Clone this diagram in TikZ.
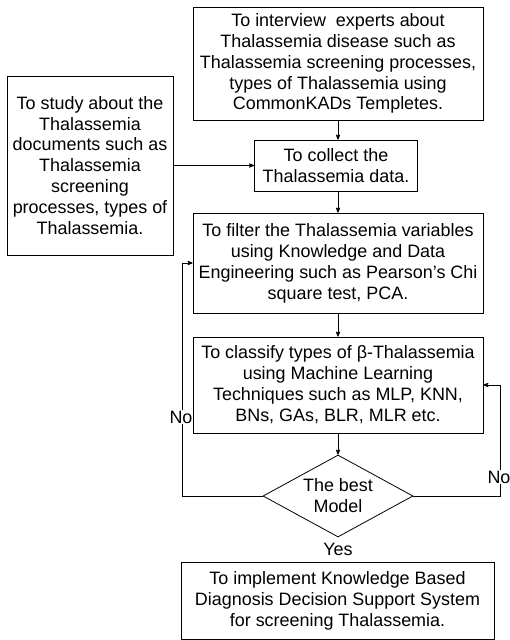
\documentclass[tikz,border=0pt]{standalone}
\usepackage{fontspec}
\setmainfont{Liberation Sans}
\usetikzlibrary{arrows}
\usetikzlibrary{shapes.geometric}

\begin{document}
\begin{tikzpicture} [x=1bp, y=-1bp, >=stealth', font=\fontsize{18}{21}\selectfont,
 box/.style={draw, align=center, inner sep=0, line width=.8bp},
 link/.style={draw, line width=.8bp, ->},
 lbl/.style={fill=white, inner sep=1}]
\useasboundingbox (0,0) rectangle (510,640);
\node[box, minimum width=290bp, minimum height=113bp] (interview) at (338,63.5)
 {To interview\ \ experts about\\ Thalassemia disease such as\\ Thalassemia screening processes,\\ types of Thalassemia using\\ CommonKADs Templetes.};
\node[box, minimum width=166bp, minimum height=179bp] (study) at (90,165.5)
 {To study about the\\ Thalassemia\\ documents such as\\ Thalassemia\\ screening\\ processes, types of\\ Thalassemia.};
\node[box, minimum width=163bp, minimum height=51bp] (collect) at (336,165.5)
 {To collect the\\ Thalassemia data.};
\node[box, minimum width=290bp, minimum height=100bp] (filter) at (338,263)
 {To filter the Thalassemia variables\\ using Knowledge and Data\\ Engineering such as Pearson’s Chi\\ square test, PCA.};
\node[box, minimum width=290bp, minimum height=96bp] (classify) at (338,385)
 {To classify types of β-Thalassemia\\ using Machine Learning\\ Techniques such as MLP, KNN,\\ BNs, GAs, BLR, MLR etc.};
\node[box, diamond, aspect=1.83, minimum width=150bp, minimum height=82bp] (best) at (338,496)
 {The best\\ Model};
\node[box, minimum width=313bp, minimum height=77bp] (implement) at (337.5,600.5)
 {To implement Knowledge Based\\ Diagnosis Decision Support System\\ for screening Thalassemia.};
\node (yes) at (338,549) {Yes};

\coordinate (noL) at (182,263);
\coordinate (noR) at (500,385);
\draw[link] (interview.south -| best) -- (collect.north -| best);
\draw[link] (study.east |- collect) -- (collect.west);
\draw[link] (collect.south -| best) -- (filter.north);
\draw[link] (filter) -- (classify);
\draw[link] (classify) -- (best);
\draw[link] (best.west) -| (noL) -- (filter.west);
\draw[link] (best.east) -| (noR) -- (classify.east);
\node[lbl] (noleft) at (181,417) {No};
\node[lbl] (noright) at (499,477) {No};
\end{tikzpicture}
\end{document}
